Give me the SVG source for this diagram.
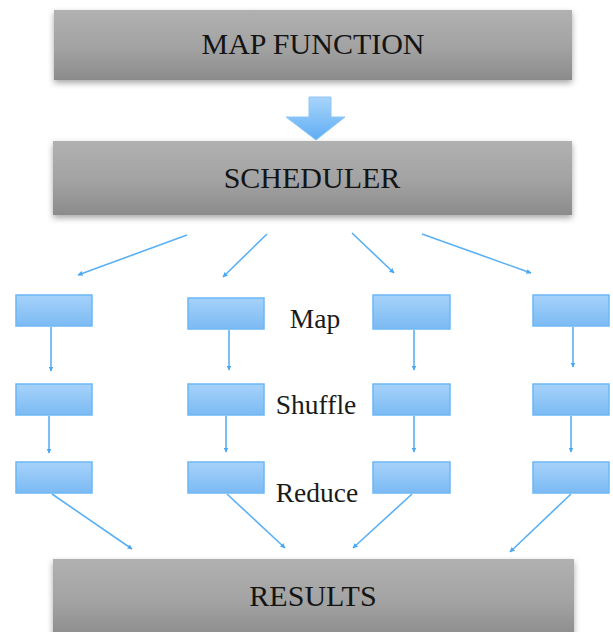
<svg xmlns="http://www.w3.org/2000/svg" width="613" height="632" viewBox="0 0 613 632">
<defs>
<linearGradient id="gray" x1="0" y1="0" x2="0" y2="1">
<stop offset="0" stop-color="#b1b1b1"/>
<stop offset="0.55" stop-color="#a2a2a2"/>
<stop offset="1" stop-color="#8b8b8b"/>
</linearGradient>
<linearGradient id="blue" x1="0" y1="0" x2="0" y2="1">
<stop offset="0" stop-color="#a6d2fa"/>
<stop offset="1" stop-color="#7bbaf3"/>
</linearGradient>
<linearGradient id="bigArrow" x1="0" y1="0" x2="0" y2="1">
<stop offset="0" stop-color="#a9d5fb"/>
<stop offset="1" stop-color="#5eadf3"/>
</linearGradient>
<filter id="shadow" x="-5%" y="-20%" width="110%" height="150%">
<feDropShadow dx="0" dy="3" stdDeviation="3" flood-color="#000" flood-opacity="0.35"/>
</filter>
<marker id="ah" viewBox="0 0 10 10" refX="9" refY="5" markerWidth="5" markerHeight="5" orient="auto" markerUnits="userSpaceOnUse">
<path d="M0,0 L10,5 L0,10 z" fill="#4aa8f0"/>
</marker>
</defs>
<style>
.big{fill:url(#gray);filter:url(#shadow);}
.bigt{font-family:"Liberation Serif","Times New Roman",serif;font-size:30px;fill:#141414;text-anchor:middle;}
.sm{fill:url(#blue);stroke:#6cb8f6;stroke-width:1.5;}
.lbl{font-family:"Liberation Serif","Times New Roman",serif;font-size:27.5px;fill:#1a1a1a;text-anchor:middle;}
.con line{stroke:#5ab0f3;stroke-width:1.6;marker-end:url(#ah);}
</style>
<rect width="613" height="632" fill="#fff"/>

<g id="map-function">
<rect class="big" x="54" y="10" width="518" height="70"/>
<text class="bigt" x="313" y="54">MAP FUNCTION</text>
</g>

<g id="big-arrow">
<path d="M309,97 H331 V117 H345 L316,140 L286,117 H309 Z" fill="url(#bigArrow)" stroke="#8cc6f7" stroke-width="1"/>
</g>

<g id="scheduler">
<rect class="big" x="53" y="141" width="519" height="74"/>
<text class="bigt" x="312" y="188">SCHEDULER</text>
</g>

<g id="results">
<rect class="big" x="53" y="559" width="521" height="80"/>
<text class="bigt" x="313" y="606">RESULTS</text>
</g>

<g id="map1"><rect class="sm" x="16" y="295" width="76" height="31"/></g>
<g id="map2"><rect class="sm" x="188" y="298" width="76" height="31"/></g>
<g id="map3"><rect class="sm" x="373" y="295" width="77" height="34"/></g>
<g id="map4"><rect class="sm" x="533" y="295" width="76" height="31"/></g>

<g id="shuffle1"><rect class="sm" x="16" y="384" width="76" height="31"/></g>
<g id="shuffle2"><rect class="sm" x="188" y="384" width="76" height="31"/></g>
<g id="shuffle3"><rect class="sm" x="373" y="384" width="77" height="31"/></g>
<g id="shuffle4"><rect class="sm" x="533" y="384" width="76" height="31"/></g>

<g id="reduce1"><rect class="sm" x="16" y="462" width="76" height="31"/></g>
<g id="reduce2"><rect class="sm" x="188" y="462" width="76" height="31"/></g>
<g id="reduce3"><rect class="sm" x="373" y="462" width="77" height="31"/></g>
<g id="reduce4"><rect class="sm" x="533" y="462" width="76" height="31"/></g>

<g id="labels">
<text class="lbl" x="315" y="328">Map</text>
<text class="lbl" x="316" y="414">Shuffle</text>
<text class="lbl" x="317" y="502">Reduce</text>
</g>

<g id="connectors" class="con">
<line x1="187" y1="235" x2="78" y2="275"/>
<line x1="267" y1="234" x2="223" y2="277"/>
<line x1="352" y1="233" x2="394" y2="273"/>
<line x1="422" y1="234" x2="531" y2="273"/>

<line x1="51" y1="327" x2="51" y2="371"/>
<line x1="229" y1="330" x2="229" y2="370"/>
<line x1="414" y1="330" x2="414" y2="370"/>
<line x1="573" y1="327" x2="573" y2="367"/>

<line x1="49" y1="416" x2="49" y2="453"/>
<line x1="226" y1="416" x2="226" y2="452"/>
<line x1="414" y1="416" x2="414" y2="452"/>
<line x1="571" y1="416" x2="571" y2="452"/>

<line x1="52" y1="494" x2="132" y2="549"/>
<line x1="227" y1="494" x2="285" y2="548"/>
<line x1="412" y1="494" x2="353" y2="548"/>
<line x1="571" y1="494" x2="510" y2="552"/>
</g>
</svg>
